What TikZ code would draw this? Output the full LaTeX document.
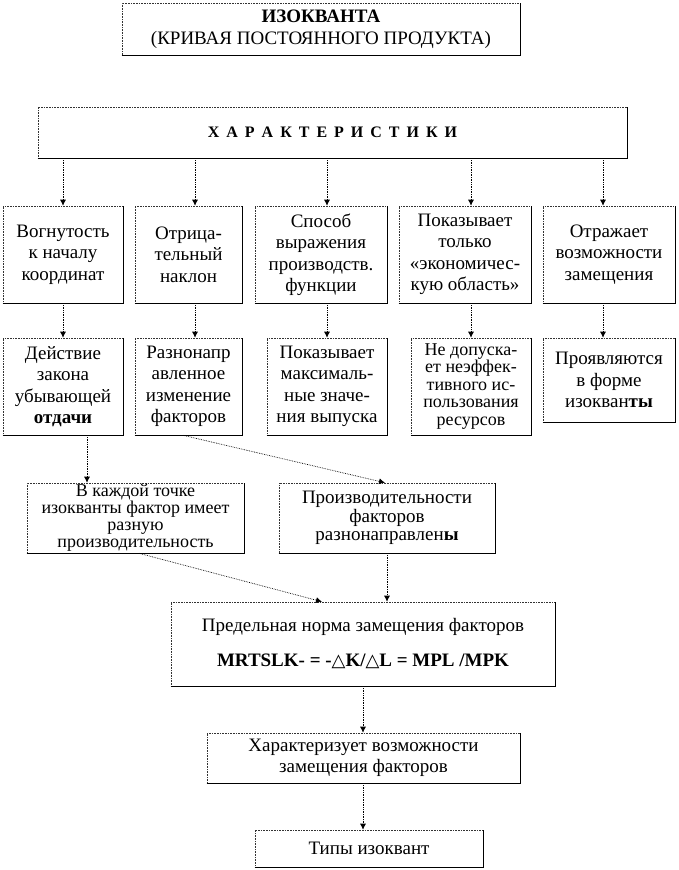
\documentclass[tikz,border=0pt]{standalone}
\usepackage{fontspec}
\setmainfont{Liberation Serif}
\newfontfamily\djv{DejaVu Sans}
\usetikzlibrary{arrows.meta}
\begin{document}
\begin{tikzpicture}[x=1pt,y=-1pt,
  box/.style={draw=black!80, densely dotted, line width=0.6pt, inner sep=1pt, align=center,
    font=\fontsize{19}{21.5}\selectfont},
  arr/.style={densely dotted, line width=0.7pt, -{Latex[length=6pt,width=6pt]}},
  edge/.style={solid, line width=0.9pt, black}]
\useasboundingbox[fill=white] (0,0) rectangle (678,870);

\node[box, minimum width=398, minimum height=52, font=\fontsize{19}{22}\selectfont] (title) at (321,29)
  {\textbf{ИЗОКВАНТА}\\(КРИВАЯ ПОСТОЯННОГО ПРОДУКТА)};

\node[box, minimum width=589, minimum height=51, font=\fontsize{16}{17}\selectfont\bfseries] (h) at (332.5,132.5)
  {Х\hspace{7pt}А\hspace{7pt}Р\hspace{7pt}А\hspace{7pt}К\hspace{7pt}Т\hspace{7pt}Е\hspace{7pt}Р\hspace{7pt}И\hspace{7pt}С\hspace{7pt}Т\hspace{7pt}И\hspace{7pt}К\hspace{7pt}И};

% row 1
\node[box, minimum width=120, minimum height=97] (a1) at (63,254.5) {Вогнутость\\к началу\\координат};
\node[box, minimum width=107, minimum height=97] (a2) at (188.5,254.5) {Отрица-\\тельный\\наклон};
\node[box, minimum width=132, minimum height=97] (a3) at (321,254.5) {Способ\\выражения\\производств.\\функции};
\node[box, minimum width=132, minimum height=97] (a4) at (465,254.5) {Показывает\\только\\«экономичес-\\кую область»};
\node[box, minimum width=132, minimum height=97] (a5) at (609,254.5) {Отражает\\возможности\\замещения};

% row 2
\node[box, minimum width=120, minimum height=97] (b1) at (63,386.5) {Действие\\закона\\убывающей\\\textbf{отдачи}};
\node[box, minimum width=107, minimum height=97] (b2) at (188.5,386.5) {Разнонапр\\авленное\\изменение\\факторов};
\node[box, minimum width=120, minimum height=97] (b3) at (327,386.5) {Показывает\\максималь-\\ные значе-\\ния выпуска};
\node[box, minimum width=120, minimum height=97, inner ysep=0pt, font=\fontsize{18}{17.5}\selectfont] (b4) at (471,386.5) {Не допуска-\\ет неэффек-\\тивного ис-\\пользования\\ресурсов};
\node[box, minimum width=132, minimum height=84] (b5) at (609,380) {Проявляются\\в форме\\изокван\textbf{ты}};

% row 3
\node[box, minimum width=217, minimum height=70, inner ysep=0pt, font=\fontsize{18}{17}\selectfont] (c1) at (135.5,518) {В каждой точке\\изокванты фактор имеет\\разную\\производительность};
\node[box, minimum width=216, minimum height=70, font=\fontsize{19}{18.5}\selectfont] (c2) at (387,518) {Производительности\\факторов\\разнонаправлен\textbf{ы}};

% MRTS
\node[box, minimum width=384, minimum height=84, font=\fontsize{19}{35}\selectfont] (m) at (363,644)
  {Предельная норма замещения факторов\\\textbf{MRTSLK- = -{\djv\mdseries\fontsize{18}{18}\selectfont △}K/{\djv\mdseries\fontsize{18}{18}\selectfont △}L = MPL /MPK}};

\node[box, minimum width=313, minimum height=50] (k) at (363.5,758) {Характеризует возможности\\замещения факторов};
\node[box, minimum width=228, minimum height=37] (t) at (369,848.5) {Типы изоквант};

% solid bottom/right edges
\foreach \n in {title,h,a1,a2,a3,a4,a5,b1,b2,b3,b4,b5,c1,c2,m,k,t}
  \draw[edge] (\n.south west) -- (\n.south east) -- (\n.north east);

% connector x positions
\coordinate (x1) at (63,0);
\coordinate (x2) at (195,0);
\coordinate (x3) at (327,0);
\coordinate (x4) at (471,0);
\coordinate (x5) at (603,0);
\coordinate (xb1) at (87,0);
\coordinate (xb2) at (183,0);
\coordinate (xc2in) at (385,0);
\coordinate (xc1) at (139,0);
\coordinate (xmin) at (322,0);
\coordinate (xc2) at (387,0);
\coordinate (xm) at (363,0);

\draw[arr] (h.south -| x1) -- (a1.north -| x1);
\draw[arr] (h.south -| x2) -- (a2.north -| x2);
\draw[arr] (h.south -| x3) -- (a3.north -| x3);
\draw[arr] (h.south -| x4) -- (a4.north -| x4);
\draw[arr] (h.south -| x5) -- (a5.north -| x5);

\draw[arr] (a1.south -| x1) -- (b1.north -| x1);
\draw[arr] (a2.south -| x2) -- (b2.north -| x2);
\draw[arr] (a3.south -| x3) -- (b3.north -| x3);
\draw[arr] (a4.south -| x4) -- (b4.north -| x4);
\draw[arr] (a5.south -| x5) -- (b5.north -| x5);

\draw[arr] (b1.south -| xb1) -- (c1.north -| xb1);
\draw[arr] (b2.south -| xb2) -- (c2.north -| xc2in);
\draw[arr] (c1.south -| xc1) -- (m.north -| xmin);
\draw[arr] (c2.south -| xc2) -- (m.north -| xc2);
\draw[arr] (m.south -| xm) -- (k.north -| xm);
\draw[arr] (k.south -| xm) -- (t.north -| xm);
\end{tikzpicture}
\end{document}
